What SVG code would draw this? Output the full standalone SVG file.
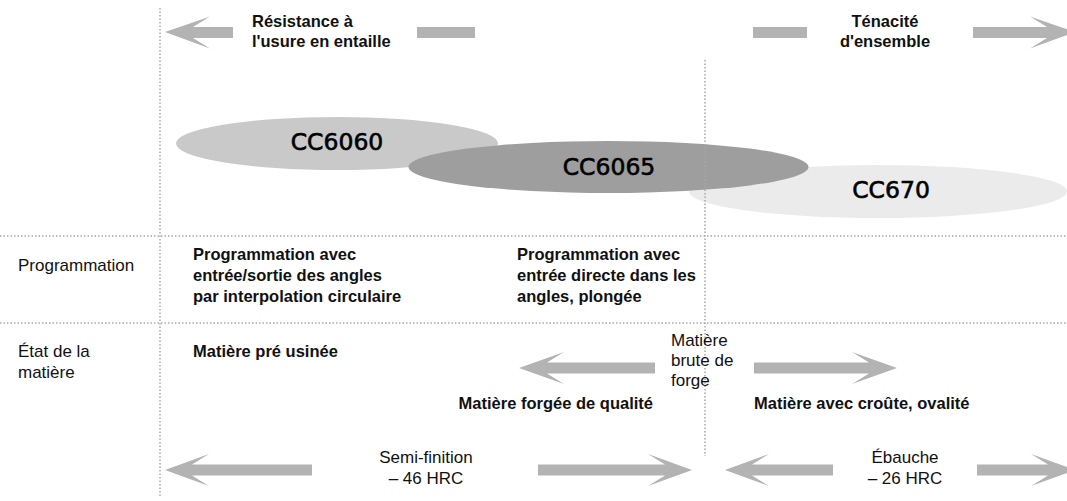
<svg xmlns="http://www.w3.org/2000/svg" width="1067" height="501" viewBox="0 0 1067 501">
<style>
.bg{fill:#ffffff}
.dot{stroke:#a8a8a8;stroke-width:1.5;stroke-dasharray:1.5 2;fill:none}
.arr{fill:#b3b3b3}
.b{font-family:"Liberation Sans",Arial,sans-serif;font-weight:bold;font-size:16.5px;fill:#111}
.r{font-family:"Liberation Sans",Arial,sans-serif;font-size:17px;fill:#111}
.big{font-family:"DejaVu Sans","Liberation Sans",sans-serif;font-size:23.5px;fill:#000;stroke:#000;stroke-width:0.6;text-anchor:middle}
.c{text-anchor:middle}
.e{text-anchor:end}
</style>
<rect class="bg" x="0" y="0" width="1067" height="501"/>
<g id="ellipses">
<g id="cc6060"><ellipse cx="337" cy="143.5" rx="161" ry="26.5" fill="#c8c9c8"/><text class="big" x="337" y="150">CC6060</text></g>
<g id="cc670"><ellipse cx="878" cy="191.5" rx="189" ry="26.5" fill="#ebebeb"/><text class="big" x="891" y="198">CC670</text></g>
<g id="cc6065"><ellipse cx="608.5" cy="167" rx="200" ry="26" fill="#9d9e9d"/><text class="big" x="609" y="175">CC6065</text></g>
</g>
<g id="connectors">
<line class="dot" x1="160" y1="8" x2="160" y2="497"/>
<line class="dot" x1="705" y1="60" x2="705" y2="456"/>
<line class="dot" x1="0" y1="236" x2="1067" y2="236"/>
<line class="dot" x1="0" y1="323" x2="1067" y2="323"/>
<polygon class="arr" points="165,32 210,16.5 193,27 233,27 233,38 193,38 210,48.5"/>
<rect class="arr" x="417" y="27" width="58" height="11"/>
<rect class="arr" x="753" y="27" width="54" height="11"/>
<polygon class="arr" points="1075,32 1030,16.5 1047,27 973,27 973,38 1047,38 1030,48.5"/>
<polygon class="arr" points="519,368 564,352 547,362.5 655,362.5 655,373.5 547,373.5 564,384"/>
<polygon class="arr" points="897,368 852,352 869,362.5 754,362.5 754,373.5 869,373.5 852,384"/>
<polygon class="arr" points="165,470 209,454 192,464.5 312,464.5 312,475.5 192,475.5 209,486"/>
<polygon class="arr" points="692,470 648,454 665,464.5 538,464.5 538,475.5 665,475.5 648,486"/>
<polygon class="arr" points="725,470 769,454 752,464.5 833,464.5 833,475.5 752,475.5 769,486"/>
<polygon class="arr" points="1075,470 1031,454 1048,464.5 977,464.5 977,475.5 1048,475.5 1031,486"/>
</g>
<g id="top-labels">
<text class="b" x="252" y="27">Résistance à</text>
<text class="b" x="252" y="47">l'usure en entaille</text>
<text class="b c" x="885" y="27">Ténacité</text>
<text class="b c" x="885" y="47">d'ensemble</text>
</g>
<g id="row-programmation">
<text class="r" x="18" y="271">Programmation</text>
<text class="b" x="193" y="260">Programmation avec</text>
<text class="b" x="193" y="281">entrée/sortie des angles</text>
<text class="b" x="193" y="302">par interpolation circulaire</text>
<text class="b" x="517" y="260">Programmation avec</text>
<text class="b" x="517" y="281">entrée directe dans les</text>
<text class="b" x="517" y="302">angles, plongée</text>
</g>
<g id="row-matiere">
<text class="r" x="18" y="357">État de la</text>
<text class="r" x="18" y="378">matière</text>
<text class="b" x="193" y="357">Matière pré usinée</text>
<text class="r" x="671" y="346">Matière</text>
<text class="r" x="671" y="366">brute de</text>
<text class="r" x="671" y="386">forge</text>
<text class="b e" x="653" y="409">Matière forgée de qualité</text>
<text class="b" x="754" y="409">Matière avec croûte, ovalité</text>
</g>
<g id="row-hardness">
<text class="r c" x="426" y="463">Semi-finition</text>
<text class="r c" x="426" y="484">– 46 HRC</text>
<text class="r c" x="905" y="463">Ébauche</text>
<text class="r c" x="905" y="484">– 26 HRC</text>
</g>
</svg>
